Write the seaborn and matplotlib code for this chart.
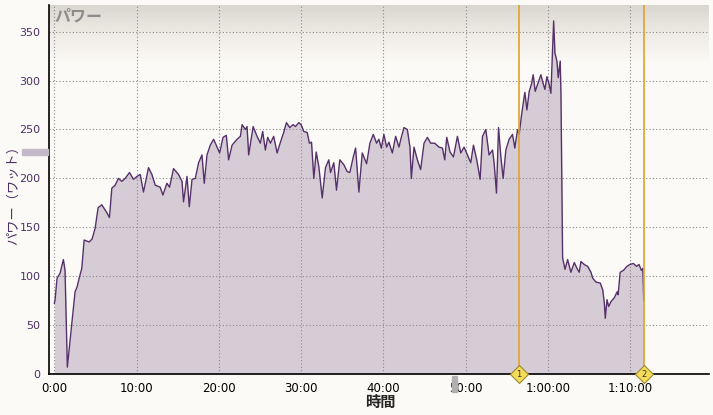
import numpy as np
import pandas as pd
import seaborn as sns
import matplotlib.pyplot as plt
from matplotlib.ticker import FuncFormatter, MultipleLocator
from matplotlib.colors import LinearSegmentedColormap

# elapsed time (minutes) and power (watts)
minutes = [0.0, 0.09, 0.33, 0.69, 1.10, 1.30, 1.58, 2.52, 2.76, 3.05, 3.34, 3.62, 4.23, 4.59,
           4.96, 5.32, 5.77, 6.38, 6.70, 6.99, 7.39, 7.80, 8.21, 8.61, 9.14, 9.62, 10.04,
           10.44, 10.84, 11.45, 11.86, 12.27, 12.87, 13.20, 13.69, 14.01, 14.49, 15.10,
           15.52, 15.71, 16.13, 16.41, 16.74, 17.14, 17.54, 17.95, 18.23, 18.56, 18.96,
           19.37, 19.78, 20.10, 20.51, 20.91, 21.19, 21.61, 22.22, 22.62, 22.83, 23.23,
           23.43, 23.63, 24.17, 24.65, 25.05, 25.33, 25.66, 25.94, 26.27, 26.67, 27.09,
           27.49, 27.89, 28.22, 28.62, 29.04, 29.32, 29.72, 30.01, 30.33, 30.74, 31.02,
           31.27, 31.55, 31.84, 32.16, 32.57, 32.97, 33.37, 33.58, 33.98, 34.31, 34.71,
           35.20, 35.61, 35.93, 36.35, 36.63, 37.03, 37.44, 37.97, 38.37, 38.78, 39.18,
           39.46, 39.76, 40.07, 40.40, 40.68, 41.10, 41.50, 41.90, 42.19, 42.51, 42.92,
           43.24, 43.41, 43.73, 44.14, 44.54, 44.95, 45.36, 45.76, 46.25, 46.77, 47.19,
           47.47, 47.71, 48.11, 48.53, 49.01, 49.42, 49.82, 50.23, 50.63, 50.96, 51.36,
           51.77, 52.06, 52.46, 52.86, 53.28, 53.47, 53.76, 54.01, 54.29, 54.57, 54.90,
           55.30, 55.71, 55.99, 56.32, 56.52, 56.81, 57.21, 57.46, 57.74, 58.03, 58.22,
           58.47, 58.76, 59.16, 59.37, 59.65, 59.89, 60.17, 60.38, 60.58, 60.71, 60.87,
           61.11, 61.27, 61.51, 61.60, 61.80, 62.09, 62.41, 62.81, 63.22, 63.55, 63.82,
           64.03, 64.43, 64.85, 65.25, 65.46, 65.86, 66.38, 66.68, 66.87, 66.99, 67.20,
           67.40, 67.68, 68.09, 68.43, 68.55, 68.80, 69.21, 69.61, 69.98, 70.40, 70.80,
           71.09, 71.37, 71.55, 71.67]
watts = [72, 76, 98, 103, 117, 106, 7, 84, 89, 99, 108, 137, 135, 138,
         149, 170, 173, 165, 160, 190, 193, 200, 197, 200, 206, 199, 202,
         204, 186, 211, 204, 193, 191, 183, 195, 191, 210, 204,
         197, 176, 202, 171, 199, 200, 216, 224, 195, 224, 234,
         240, 232, 226, 242, 244, 219, 234, 240, 243, 255, 250,
         253, 224, 253, 243, 236, 248, 229, 242, 236, 243, 226,
         237, 247, 257, 252, 255, 253, 257, 255, 248, 247, 236,
         237, 200, 227, 212, 180, 211, 219, 206, 216, 188, 219,
         214, 207, 206, 222, 231, 186, 226, 215, 236, 245, 236,
         240, 231, 245, 232, 237, 226, 243, 232, 242, 252, 250,
         232, 200, 232, 219, 209, 236, 242, 236, 236, 232, 231,
         219, 242, 227, 222, 243, 226, 232, 224, 216, 234, 219,
         199, 243, 250, 224, 229, 216, 185, 252, 222, 200, 229,
         240, 245, 231, 250, 245, 265, 288, 270, 289, 297, 306,
         289, 296, 306, 299, 291, 304, 296, 287, 333, 361, 328,
         320, 303, 320, 286, 119, 107, 117, 104, 114, 108, 104,
         115, 112, 110, 104, 98, 94, 93, 86, 73, 57, 76,
         69, 74, 78, 84, 81, 104, 106, 110, 112, 113, 110,
         112, 106, 108, 75]

lap_marks = [56.5, 71.7]
lap_names = ['1', '2']
y_ticks = [0, 50, 100, 150, 200, 250, 300, 350]

df = pd.DataFrame({'minutes': minutes, 'watts': watts})

sns.set_style('white')
plt.rcParams['font.family'] = ['DejaVu Sans', 'Noto Sans CJK JP']

bg = '#fcfaf6'
line_col = '#55306a'
fill_col = '#d6ccd6'

fig = plt.figure(figsize=(7.13, 4.15), dpi=100, facecolor=bg)
ax = fig.add_axes([49 / 713, 41 / 415, 660 / 713, 369 / 415])
ax.set_facecolor(bg)

# grey fade at the top of the plot area
cmap = LinearSegmentedColormap.from_list('fade', ['#d9d5cf', '#efece6', bg])
grad = np.linspace(0, 1, 100).reshape(-1, 1)
ax.imshow(grad, cmap=cmap, aspect='auto', extent=[0, 1, 0.84, 1.0],
          transform=ax.transAxes, zorder=0)

ax.fill_between(df['minutes'], df['watts'], 0, color=fill_col, zorder=1, linewidth=0)
sns.lineplot(data=df, x='minutes', y='watts', ax=ax, color=line_col, linewidth=1.0,
             zorder=3, estimator=None, sort=False)

ax.set_xlim(-0.65, 79.6)
ax.set_ylim(0, 377.3)
ax.xaxis.set_major_locator(MultipleLocator(10))
ax.set_yticks(y_ticks)


def fmt_time(v, pos):
    m = int(round(v))
    if m >= 60:
        return '%d:%02d:00' % (m // 60, m % 60)
    return '%d:00' % m


ax.xaxis.set_major_formatter(FuncFormatter(fmt_time))
ax.grid(True, color='#8a8a8a', linestyle=(0, (1, 2)), linewidth=0.8, zorder=2)
ax.set_axisbelow(False)

for s in ['top', 'right']:
    ax.spines[s].set_visible(False)
for s in ['left', 'bottom']:
    ax.spines[s].set_color('black')
    ax.spines[s].set_linewidth(1.2)
    ax.spines[s].set_zorder(5)

ax.tick_params(axis='y', colors='black', labelcolor='#4a2f66', labelsize=8,
               length=4, width=1, direction='out', pad=2)
ax.tick_params(axis='x', colors='black', labelcolor='black', labelsize=8.5,
               length=4, width=1, direction='out', pad=2)

ax.set_xlabel('時間', fontsize=11, fontweight='bold', family=['Noto Sans CJK JP'])
ax.xaxis.set_label_coords((380 - 49) / 660, -(394 - 374) / 369)
ax.set_ylabel('パワー（ワット）', fontsize=9.5, color='#4a2f66', family=['Noto Sans CJK JP'])
ax.yaxis.set_label_coords(-(49 - 20) / 660, (374 - 192) / 369)

ax.text(0.008, 0.99, 'パワー', transform=ax.transAxes, ha='left', va='top',
        fontsize=11.5, color='#8c8c8c', style='italic', fontweight='bold',
        family=['Noto Sans CJK JP'])

# lap markers
for xm, name in zip(lap_marks, lap_names):
    ax.axvline(xm, color='#e0a22a', linewidth=1.2, zorder=4)
    ax.plot([xm], [0], marker='D', markersize=9, color='#f4dc5a',
            markeredgecolor='#9a8a30', markeredgewidth=0.8, clip_on=False, zorder=6)
    ax.text(xm, 0, name, ha='center', va='center', fontsize=6, color='#333333',
            clip_on=False, zorder=7)

# small decorations outside the plot
fig.patches.append(plt.Rectangle((22 / 713, 1 - 155 / 415), 26 / 713, 6 / 415,
                                 transform=fig.transFigure, color='#c3b9c8', zorder=1))
fig.patches.append(plt.Rectangle((452 / 713, 1 - 392 / 415), 5 / 713, 16 / 415,
                                 transform=fig.transFigure, color='#b0b0b0', zorder=1))

fig.savefig('out.png', dpi=100, facecolor=bg)
plt.close(fig)
